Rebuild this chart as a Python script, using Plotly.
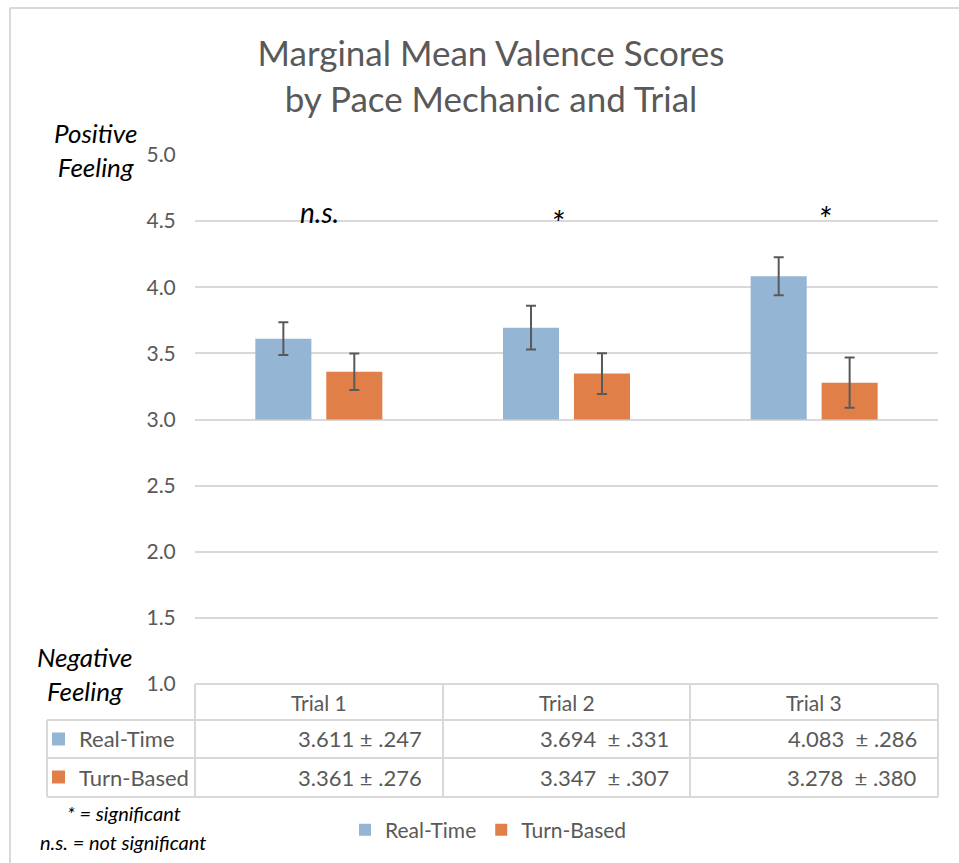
import plotly.graph_objects as go

# ---- data ----
trials = ["Trial 1", "Trial 2", "Trial 3"]
real_time = [3.611, 3.694, 4.083]
real_time_ci = [0.247, 0.331, 0.286]
turn_based = [3.361, 3.347, 3.278]
turn_based_ci = [0.276, 0.307, 0.380]
real_time_txt = ["3.611 ± .247", "3.694  ± .331", "4.083  ± .286"]
turn_based_txt = ["3.361 ± .276", "3.347  ± .307", "3.278  ± .380"]
sig_labels = ["n.s.", "*", "*"]
y_ticks = [1.0, 1.5, 2.0, 2.5, 3.0, 3.5, 4.0, 4.5, 5.0]
base_value = 3.0

# ---- layout geometry (pixels) ----
W, H = 959, 863
L, R, T, B = 195, 938, 155, 684
FONT = "Lato"
GRAY = "#595959"
LINE = "#d9d9d9"
BLUE = "#95B5D5"
ORANGE = "#E08048"


def px(x):
    return (x - L) / (R - L)


def py(y):
    return (B - y) / (B - T)


fig = go.Figure()
fig.add_trace(go.Bar(
    name="Real-Time", x=trials, y=[v - base_value for v in real_time], base=base_value,
    marker=dict(color=BLUE, line=dict(width=0)),
    error_y=dict(type="data", array=[c / 2 for c in real_time_ci], color=GRAY, thickness=2, width=5),
))
fig.add_trace(go.Bar(
    name="Turn-Based", x=trials, y=[v - base_value for v in turn_based], base=base_value,
    marker=dict(color=ORANGE, line=dict(width=0)),
    error_y=dict(type="data", array=[c / 2 for c in turn_based_ci], color=GRAY, thickness=2, width=5),
))

shapes = []
annotations = []


def hline(x0, x1, y, color=LINE, w=2):
    shapes.append(dict(type="line", xref="paper", yref="paper", x0=px(x0), x1=px(x1),
                       y0=py(y), y1=py(y), line=dict(color=color, width=w), layer="above"))


def vline(x, y0, y1, color=LINE, w=2):
    shapes.append(dict(type="line", xref="paper", yref="paper", x0=px(x), x1=px(x),
                       y0=py(y0), y1=py(y1), line=dict(color=color, width=w), layer="above"))


# outer frame
hline(10, 959, 8)
vline(10, 8, 863)

# data table
col_edges = [195, 443, 690, 938]
hdr_top, row1_top, row2_top, tbl_bot = 684, 720, 758, 797
hline(195, 938, hdr_top)
hline(47, 938, row1_top)
hline(47, 938, row2_top)
hline(47, 938, tbl_bot)
vline(47, row1_top, tbl_bot)
for xe in col_edges:
    vline(xe, hdr_top, tbl_bot)

for i, t in enumerate(trials):
    cx = (col_edges[i] + col_edges[i + 1]) / 2
    annotations.append(dict(xref="paper", yref="paper", x=px(cx), y=py(702), text=t,
                            showarrow=False, xanchor="center", yanchor="middle",
                            font=dict(family=FONT, size=21, color=GRAY)))
    annotations.append(dict(xref="paper", yref="paper", x=px(col_edges[i + 1] - 19), y=py(739),
                            text=real_time_txt[i], showarrow=False, xanchor="right", yanchor="middle",
                            font=dict(family=FONT, size=22, color=GRAY)))
    annotations.append(dict(xref="paper", yref="paper", x=px(col_edges[i + 1] - 19), y=py(777),
                            text=turn_based_txt[i], showarrow=False, xanchor="right", yanchor="middle",
                            font=dict(family=FONT, size=22, color=GRAY)))

# legend keys in table
for yc, col, name in [(739, BLUE, "Real-Time"), (777, ORANGE, "Turn-Based")]:
    shapes.append(dict(type="rect", xref="paper", yref="paper", x0=px(52), x1=px(65),
                       y0=py(yc - 6.5), y1=py(yc + 6.5), fillcolor=col, line=dict(width=0), layer="above"))
    annotations.append(dict(xref="paper", yref="paper", x=px(77), y=py(yc), text=name,
                            showarrow=False, xanchor="left", yanchor="middle",
                            font=dict(family=FONT, size=22, color=GRAY)))

# significance labels
sig_pos = [(319, 212, 28), (557, 222, 34), (824, 218, 34)]
for lab, (sx, sy, fs) in zip(sig_labels, sig_pos):
    annotations.append(dict(xref="paper", yref="paper", x=px(sx), y=py(sy), text=f"<i>{lab}</i>",
                            showarrow=False, xanchor="center", yanchor="middle",
                            font=dict(family=FONT, size=fs, color="black")))

# axis end labels
annotations.append(dict(xref="paper", yref="paper", x=px(95), y=py(150),
                        text="<i>Positive<br>Feeling</i>", showarrow=False,
                        xanchor="center", yanchor="middle", align="center",
                        font=dict(family=FONT, size=26, color="black")))
annotations.append(dict(xref="paper", yref="paper", x=px(84), y=py(674),
                        text="<i>Negative<br>Feeling</i>", showarrow=False,
                        xanchor="center", yanchor="middle", align="center",
                        font=dict(family=FONT, size=26, color="black")))

# footnotes
annotations.append(dict(xref="paper", yref="paper", x=px(124), y=py(813),
                        text="<i>* = significant</i>", showarrow=False,
                        xanchor="center", yanchor="middle",
                        font=dict(family=FONT, size=20, color="black")))
annotations.append(dict(xref="paper", yref="paper", x=px(123), y=py(842),
                        text="<i>n.s. = not significant</i>", showarrow=False,
                        xanchor="center", yanchor="middle",
                        font=dict(family=FONT, size=20, color="black")))

fig.update_layout(
    width=W, height=H,
    margin=dict(l=L, r=W - R, t=T, b=H - B),
    paper_bgcolor="white", plot_bgcolor="white",
    font=dict(family=FONT, color=GRAY),
    title=dict(text="Marginal Mean Valence Scores<br>by Pace Mechanic and Trial",
               x=491 / W, xanchor="center", xref="container",
               y=1 - 66 / H, yanchor="middle", yref="container",
               font=dict(family=FONT, size=35, color=GRAY)),
    barmode="group", bargap=0.427, bargroupgap=0.21,
    showlegend=True,
    legend=dict(orientation="h", xref="paper", yref="paper", x=px(345), y=py(830),
                xanchor="left", yanchor="middle", font=dict(family=FONT, size=21, color=GRAY),
                itemwidth=30, bgcolor="rgba(0,0,0,0)"),
    shapes=shapes, annotations=annotations,
)
fig.update_xaxes(showticklabels=False, showgrid=False, zeroline=False, showline=False, ticks="")
fig.update_yaxes(range=[1, 5], tickvals=y_ticks, tickformat=".1f", showgrid=True,
                 gridcolor=LINE, gridwidth=1.5, zeroline=False, showline=False,
                 ticks="outside", ticklen=0, tickcolor="white", ticklabelstandoff=14,
                 tickfont=dict(family=FONT, size=21, color=GRAY))

fig.write_html("out.html", config={"displayModeBar": False},
               post_script="document.body.style.margin='0px';")
